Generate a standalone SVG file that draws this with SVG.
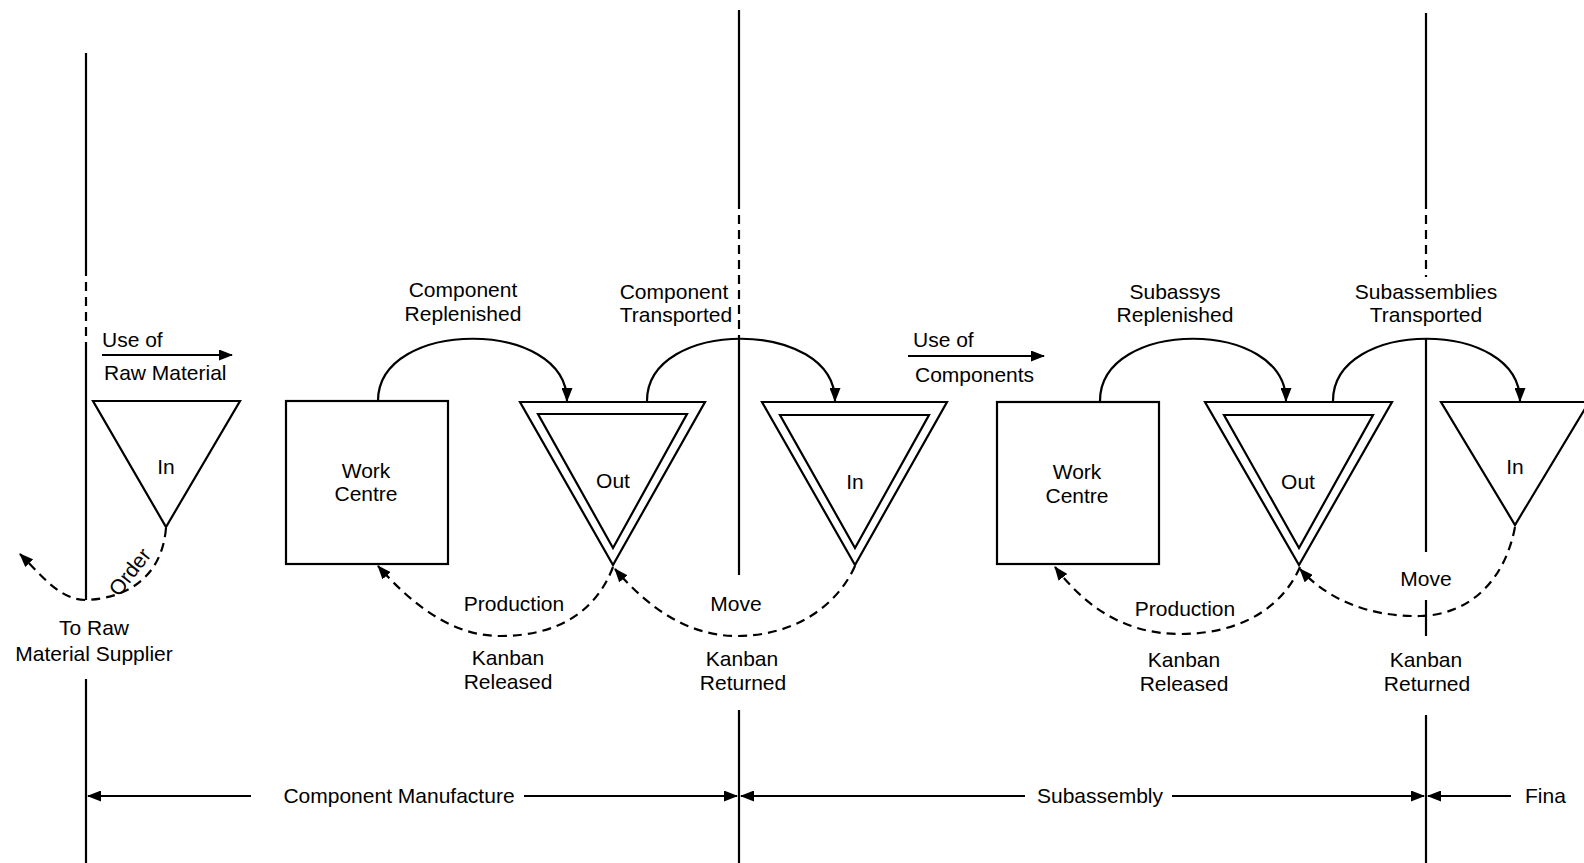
<svg xmlns="http://www.w3.org/2000/svg" width="1584" height="863" viewBox="0 0 1584 863">
  <style>
    .ln { stroke: #000; stroke-width: 2.2; fill: none; }
    .sh { stroke: #000; stroke-width: 2.2; fill: #fff; }
    .dash { stroke-dasharray: 9 6; }
    text { font-family: "Liberation Sans", Arial, sans-serif; font-size: 21px; fill: #000; text-anchor: middle; }
    .left { text-anchor: start; }
  </style>
  <defs>
    <marker id="ah" viewBox="0 0 14 11" markerWidth="14" markerHeight="11" refX="13" refY="5.5" orient="auto" markerUnits="userSpaceOnUse">
      <path d="M0,0 L14,5.5 L0,11 z" fill="#000"/>
    </marker>
  </defs>
  <rect width="1584" height="863" fill="#fff"/>

  <!-- stage boundaries -->
  <g id="boundaries" class="ln">
    <line x1="86" y1="53" x2="86" y2="267"/>
    <line class="dash" x1="86" y1="267" x2="86" y2="350"/>
    <line x1="86" y1="350" x2="86" y2="600"/>
    <line x1="86" y1="679" x2="86" y2="863"/>

    <line x1="739" y1="10" x2="739" y2="200"/>
    <line class="dash" x1="739" y1="200" x2="739" y2="337"/>
    <line x1="739" y1="337" x2="739" y2="575"/>
    <line x1="739" y1="710" x2="739" y2="863"/>

    <line x1="1426" y1="13" x2="1426" y2="200"/>
    <line class="dash" x1="1426" y1="200" x2="1426" y2="277"/>
    <line x1="1426" y1="338" x2="1426" y2="552"/>
    <line x1="1426" y1="600" x2="1426" y2="636"/>
    <line x1="1426" y1="715" x2="1426" y2="863"/>
  </g>

  <!-- connectors -->
  <g id="connectors" class="ln">
    <!-- material flow (solid) -->
    <line x1="102" y1="355" x2="232" y2="355" marker-end="url(#ah)"/>
    <line x1="908" y1="356" x2="1044" y2="356" marker-end="url(#ah)"/>
    <path d="M378,401 C378,318 567,318 567,401" marker-end="url(#ah)"/>
    <path d="M647,401 C647,318 835,318 835,401" marker-end="url(#ah)"/>
    <path d="M1100,401 C1100,318 1286,318 1286,401" marker-end="url(#ah)"/>
    <path d="M1333,401 C1333,318 1520,318 1520,401" marker-end="url(#ah)"/>
    <!-- kanban flow (dashed) -->
    <path class="dash" d="M166,528 C162,575 130,598 86,600 C60,600 42,576 20,554" marker-end="url(#ah)"/>
    <path class="dash" d="M613,567 C595,614 555,636 500,636 C450,636 410,602 378,566" marker-end="url(#ah)"/>
    <path class="dash" d="M855,566 C835,610 790,636 737,636 C690,636 650,610 615,569" marker-end="url(#ah)"/>
    <path class="dash" d="M1300,567 C1280,612 1235,634 1180,634 C1120,634 1082,602 1055,567" marker-end="url(#ah)"/>
    <path class="dash" d="M1515,527 C1505,580 1470,615 1420,616 C1370,617 1328,600 1300,569" marker-end="url(#ah)"/>
    <!-- stage spans -->
    <line x1="251" y1="796" x2="88" y2="796" marker-end="url(#ah)"/>
    <line x1="524" y1="796" x2="737" y2="796" marker-end="url(#ah)"/>
    <line x1="1025" y1="796" x2="741" y2="796" marker-end="url(#ah)"/>
    <line x1="1172" y1="796" x2="1424" y2="796" marker-end="url(#ah)"/>
    <line x1="1511" y1="796" x2="1428" y2="796" marker-end="url(#ah)"/>
  </g>

  <!-- nodes -->
  <g id="raw-in">
    <polygon class="sh" points="93,401 240,401 166,527"/>
    <text x="166" y="474">In</text>
  </g>
  <g id="work-centre-1">
    <rect class="sh" x="286" y="401" width="162" height="163"/>
    <text x="366" y="478">Work</text>
    <text x="366" y="501">Centre</text>
  </g>
  <g id="component-out">
    <polygon class="sh" points="520,402 705,402 613,565"/>
    <polygon class="ln" points="538,414 687,414 613,548"/>
    <text x="613" y="488">Out</text>
  </g>
  <g id="component-in">
    <polygon class="sh" points="762,402 947,402 855,565"/>
    <polygon class="ln" points="780,415 929,415 855,548"/>
    <text x="855" y="489">In</text>
  </g>
  <g id="work-centre-2">
    <rect class="sh" x="997" y="402" width="162" height="162"/>
    <text x="1077" y="479">Work</text>
    <text x="1077" y="503">Centre</text>
  </g>
  <g id="subassy-out">
    <polygon class="sh" points="1205,402 1392,402 1299,565"/>
    <polygon class="ln" points="1224,415 1373,415 1299,548"/>
    <text x="1298" y="489">Out</text>
  </g>
  <g id="subassy-in">
    <polygon class="sh" points="1441,402 1589,402 1515,525"/>
    <text x="1515" y="474">In</text>
  </g>

  <!-- labels -->
  <g id="labels">
    <text class="left" x="102" y="347">Use of</text>
    <text class="left" x="104" y="380">Raw Material</text>
    <text x="130" y="579" font-size="20" transform="rotate(-52 130 572)">Order</text>
    <text x="94" y="635">To Raw</text>
    <text x="94" y="661">Material Supplier</text>

    <text x="463" y="297">Component</text>
    <text x="463" y="321">Replenished</text>
    <text x="674" y="299">Component</text>
    <text x="676" y="322">Transported</text>
    <text x="514" y="611">Production</text>
    <text x="508" y="665">Kanban</text>
    <text x="508" y="689">Released</text>
    <text x="736" y="611">Move</text>
    <text x="742" y="666">Kanban</text>
    <text x="743" y="690">Returned</text>

    <text class="left" x="913" y="347">Use of</text>
    <text class="left" x="915" y="382">Components</text>
    <text x="1175" y="299">Subassys</text>
    <text x="1175" y="322">Replenished</text>
    <text x="1426" y="299">Subassemblies</text>
    <text x="1426" y="322">Transported</text>
    <text x="1185" y="616">Production</text>
    <text x="1184" y="667">Kanban</text>
    <text x="1184" y="691">Released</text>
    <text x="1426" y="586">Move</text>
    <text x="1426" y="667">Kanban</text>
    <text x="1427" y="691">Returned</text>

    <text x="399" y="803">Component Manufacture</text>
    <text x="1100" y="803">Subassembly</text>
    <text class="left" x="1525" y="803">Fina</text>
  </g>
</svg>
